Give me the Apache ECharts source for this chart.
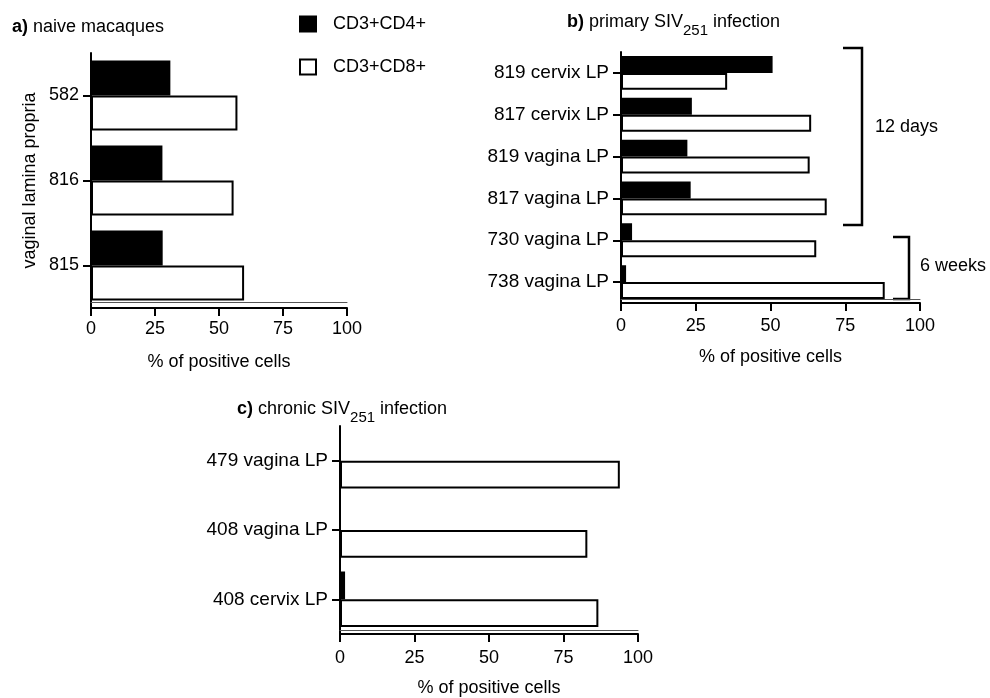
<!DOCTYPE html>
<html><head><meta charset="utf-8">
<script src="https://cdn.jsdelivr.net/npm/echarts@6/dist/echarts.min.js"></script>
<style>html,body{margin:0;padding:0;background:#fff}#c{width:990px;height:698px}</style>
</head><body><div id="c"></div>
<script>
// ---- data ----
const seriesNames = ['CD3+CD4+', 'CD3+CD8+'];
const catsA = ['582', '816', '815'];
const cd4A = [31.0, 27.9, 28.0];
const cd8A = [57.2, 55.7, 59.8];
const catsB = ['819 cervix LP', '817 cervix LP', '819 vagina LP', '817 vagina LP', '730 vagina LP', '738 vagina LP'];
const cd4B = [50.7, 23.7, 22.2, 23.3, 3.7, 1.7];
const cd8B = [35.5, 63.6, 63.1, 68.8, 65.3, 88.2];
const catsC = ['479 vagina LP', '408 vagina LP', '408 cervix LP'];
const cd4C = [0, 0, 1.7];
const cd8C = [93.9, 83.0, 86.7];
const xTickValues = [0, 25, 50, 75, 100];
const xAxisTitle = '% of positive cells';
const yAxisTitleA = 'vaginal lamina propria';

// ---- styles ----
const FONT = "'Liberation Sans', Arial, Helvetica, sans-serif";
const BLACK = '#000';
const grids = [
  {left: 91, top: 53, width: 256, height: 255},
  {left: 621, top: 52, width: 299, height: 251},
  {left: 340, top: 426, width: 298, height: 211}
];
const catGaps = ['17.6%', '19%', '20%'];
const ghostOffset = [-6, -4, -4];
const catLabelSize = [18, 19, 19];
const xLabelMargin = [12, 14, 15];
const cats = [catsA, catsB, catsC];
const cd4 = [cd4A, cd4B, cd4C];
const cd8 = [cd8A, cd8B, cd8C];

const xAxes = [];
const yAxes = [];
const series = [];
grids.forEach((g, i) => {
  xAxes.push({
    type: 'value', gridIndex: i, min: xTickValues[0], max: xTickValues[xTickValues.length - 1],
    interval: xTickValues[1] - xTickValues[0],
    axisLine: {show: true, lineStyle: {color: BLACK, width: 2}},
    axisTick: {show: true, length: 8, lineStyle: {color: BLACK, width: 2}},
    axisLabel: {color: BLACK, fontSize: 18, fontFamily: FONT, margin: xLabelMargin[i]},
    splitLine: {show: false},
    name: xAxisTitle, nameLocation: 'middle', nameGap: 45,
    nameTextStyle: {color: BLACK, fontSize: 18, fontFamily: FONT}
  });
  yAxes.push({
    type: 'category', gridIndex: i, data: cats[i], inverse: true,
    axisLine: {show: true, lineStyle: {color: BLACK, width: 2}},
    axisTick: {show: true, alignWithLabel: true, length: 8, lineStyle: {color: BLACK, width: 2}},
    axisLabel: {color: BLACK, fontSize: catLabelSize[i], fontFamily: FONT, margin: 12},
    splitLine: {show: false},
    name: i === 0 ? yAxisTitleA : '', nameLocation: 'middle', nameGap: 52,
    nameTextStyle: {color: BLACK, fontSize: 18, fontFamily: FONT}
  });
  series.push({
    type: 'bar', name: seriesNames[0], xAxisIndex: i, yAxisIndex: i, data: cd4[i],
    barGap: '0%', barCategoryGap: catGaps[i],
    itemStyle: {color: BLACK, borderColor: BLACK, borderWidth: 2}
  });
  series.push({
    type: 'bar', name: seriesNames[1], xAxisIndex: i, yAxisIndex: i, data: cd8[i],
    barGap: '0%', barCategoryGap: catGaps[i],
    itemStyle: {color: '#fff', borderColor: BLACK, borderWidth: 2}
  });
});
// faint double line below the bars, as in the scanned figure
grids.forEach((g, i) => {
  xAxes.push({
    type: 'value', gridIndex: i, min: 0, max: 100, position: 'bottom', offset: ghostOffset[i],
    axisLine: {show: true, lineStyle: {color: '#555', width: 1}},
    axisTick: {show: false}, axisLabel: {show: false}, splitLine: {show: false}
  });
});

const richTitle = {
  b: {fontFamily: FONT, fontSize: 18, fontWeight: 'bold', color: BLACK, verticalAlign: 'bottom', padding: [0, 0, 7, 0]},
  n: {fontFamily: FONT, fontSize: 18, fontWeight: 'normal', color: BLACK, verticalAlign: 'bottom', padding: [0, 0, 7, 0]},
  s: {fontFamily: FONT, fontSize: 15, fontWeight: 'normal', color: BLACK, verticalAlign: 'bottom'}
};

const chart = echarts.init(document.getElementById('c'), null, {renderer: 'canvas'});
chart.setOption({
  animation: false,
  backgroundColor: '#fff',
  textStyle: {fontFamily: FONT},
  title: [
    {text: '{b|a)}{n| naive macaques}', left: 12, top: 18, padding: 0, textStyle: {rich: richTitle}},
    {text: '{b|b)}{n| primary SIV}{s|251}{n| infection}', left: 567, top: 13, padding: 0, textStyle: {rich: richTitle}},
    {text: '{b|c)}{n| chronic SIV}{s|251}{n| infection}', left: 237, top: 400, padding: 0, textStyle: {rich: richTitle}}
  ],
  legend: {
    data: seriesNames, orient: 'vertical', left: 299, top: 15, padding: 0,
    itemWidth: 16, itemHeight: 15, itemGap: 25, icon: 'rect',
    textStyle: {color: BLACK, fontSize: 18, fontFamily: FONT, padding: [0, 0, 0, 12]},
    selectedMode: false
  },
  grid: grids.map(g => Object.assign({containLabel: false}, g)),
  xAxis: xAxes,
  yAxis: yAxes,
  series: series,
  graphic: [
    {type: 'polyline', silent: true, shape: {points: [[843, 48], [862, 48], [862, 225], [843, 225]]},
     style: {stroke: BLACK, lineWidth: 2.5, fill: null}},
    {type: 'polyline', silent: true, shape: {points: [[893, 237], [909, 237], [909, 299], [893, 299]]},
     style: {stroke: BLACK, lineWidth: 2.5, fill: null}},
    {type: 'text', left: 875, top: 118, style: {text: '12 days', fontSize: 18, fontFamily: FONT, fill: BLACK}},
    {type: 'text', left: 920, top: 257, style: {text: '6 weeks', fontSize: 18, fontFamily: FONT, fill: BLACK}}
  ]
});
</script>
</body></html>
